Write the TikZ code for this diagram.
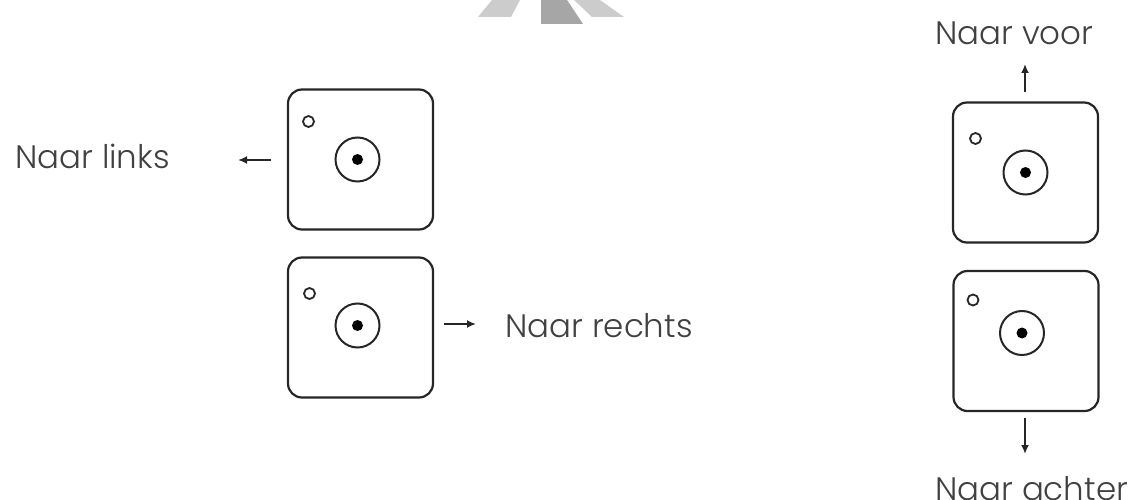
\documentclass[tikz,border=0pt]{standalone}
\usepackage{fontspec}
\setmainfont{Poppins Light}
\usetikzlibrary{arrows.meta}
\begin{document}
\begin{tikzpicture}[x=1pt,y=-1pt,
  cam/.style={draw=black!85, line width=2.2pt, rounded corners=14pt, minimum width=145pt, minimum height=140pt, inner sep=0pt},
  lens/.style={circle, draw=black!85, line width=2pt, minimum size=44pt, inner sep=0pt},
  pupil/.style={circle, fill=black, minimum size=11pt, inner sep=0pt},
  hole/.style={circle, draw=black!85, line width=1.8pt, minimum size=11pt, inner sep=0pt},
  lbl/.style={font=\fontsize{32.5}{38}\selectfont, text=black!75, inner sep=0pt},
  arr/.style={draw=black!85, line width=2pt, -{Latex[length=9pt,width=8pt]}}]
\useasboundingbox (0,0) rectangle (1133,500);
\clip (0,0) rectangle (1133,500);
% gray marks at top
\fill[black!20] (478,17) -- (492,0) -- (520,0) -- (511,17) -- cycle;
\fill[black!35] (541,0) -- (567,0) -- (583,24) -- (541,24) -- cycle;
\fill[black!20] (574,0) -- (600,0) -- (624,17) -- (592,17) -- cycle;
% cameras
\node[cam] (b1) at (360.5,159.5) {};
\node[cam] (b2) at (360.5,327.5) {};
\node[cam] (b3) at (1025.5,172.5) {};
\node[cam] (b4) at (1026,341) {};
% lenses
\node[lens] (l1) at ([shift={(-3,0)}]b1.center) {};
\node[pupil] (p1) at (l1.center) {};
\node[hole] (h1) at ([shift={(-52,-38)}]b1.center) {};
\node[lens] (l2) at ([shift={(-3,-2)}]b2.center) {};
\node[pupil] (p2) at (l2.center) {};
\node[hole] (h2) at ([shift={(-51,-34)}]b2.center) {};
\node[lens] (l3) at ([shift={(0,0)}]b3.center) {};
\node[pupil] (p3) at (l3.center) {};
\node[hole] (h3) at ([shift={(-50,-34)}]b3.center) {};
\node[lens] (l4) at ([shift={(-4,-8)}]b4.center) {};
\node[pupil] (p4) at (l4.center) {};
\node[hole] (h4) at ([shift={(-53,-41)}]b4.center) {};
% labels
\node[lbl, anchor=base west] (tl) at (15,168) {Naar links};
\node[lbl, anchor=base west] (tr) at (505,337) {Naar rechts};
\node[lbl, anchor=base west] (tv) at (935,45) {Naar voor};
\node[lbl, anchor=base west] (ta) at (935,500) {Naar achter};
% arrows
\coordinate (al) at (238,160);
\coordinate (ar) at (476,324);
\coordinate (av) at (1025,64);
\coordinate (aa) at (1025,454);
\draw[arr] ([xshift=-16]b1.west |- al) -- (al);
\draw[arr] ([xshift=10]b2.east |- ar) -- (ar);
\draw[arr] ([yshift=9]b3.north -| av) -- (av);
\draw[arr] ([yshift=-6]b4.south -| aa) -- (aa);
\end{tikzpicture}
\end{document}
